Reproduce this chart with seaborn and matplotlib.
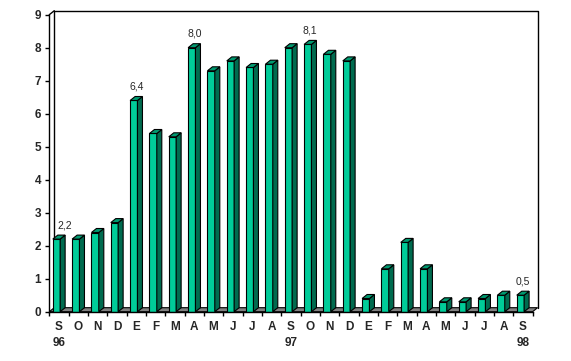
import matplotlib
matplotlib.use("Agg")
import matplotlib.pyplot as plt
import matplotlib.transforms as mtrans
from matplotlib.patches import Polygon
import pandas as pd
import seaborn as sns

months = ['S', 'O', 'N', 'D', 'E', 'F', 'M', 'A', 'M', 'J', 'J', 'A',
          'S', 'O', 'N', 'D', 'E', 'F', 'M', 'A', 'M', 'J', 'J', 'A', 'S']
years = {0: '96', 12: '97', 24: '98'}
valores = [2.2, 2.2, 2.4, 2.7, 6.4, 5.4, 5.3, 8.0, 7.3, 7.6, 7.4, 7.5,
           8.0, 8.1, 7.8, 7.6, 0.4, 1.3, 2.1, 1.3, 0.3, 0.3, 0.4, 0.5, 0.5]
rotulos = {0: '2,2', 4: '6,4', 7: '8,0', 13: '8,1', 24: '0,5'}

df = pd.DataFrame({'pos': range(len(valores)), 'valor': valores})

sns.set_theme(style="white")
plt.rcParams['font.family'] = ['Liberation Sans', 'DejaVu Sans']

cor_frente = '#00CC99'
cor_lado = '#006B4F'
cor_topo = '#009A70'

fig = plt.figure(figsize=(5.71, 3.61), dpi=100)
ax = fig.add_axes([49.3 / 571, 49.3 / 361, 483.3 / 571, 297 / 361])

sns.barplot(x='pos', y='valor', data=df, color=cor_frente, width=0.38,
            saturation=1, edgecolor='black', linewidth=0.8, ax=ax, zorder=3)
ax.set_xlim(-0.5, 24.5)
ax.set_ylim(0, 9)

# profundidade 3D em pixels
dx, dy = 5 / 100, 4 / 100
desloc = mtrans.ScaledTranslation(dx, dy, fig.dpi_scale_trans)
meio = mtrans.ScaledTranslation(-dx / 2, 0, fig.dpi_scale_trans)
inv = fig.transFigure.inverted()

# parede do fundo e chao
fundo = ax.transData + desloc
x0, x1 = -0.5, 24.5
p_frente = ax.transData.transform([(x0, 0), (x1, 0)])
p_fundo = fundo.transform([(x1, 0), (x0, 0)])
chao = Polygon(inv.transform(list(p_frente) + list(p_fundo)), closed=True,
               facecolor='#808080', edgecolor='black', linewidth=0.8,
               transform=fig.transFigure, clip_on=False, zorder=1)
ax.add_patch(chao)

ax.plot([x0, x0, x1, x1], [0, 9, 9, 0], color='black', lw=1,
        transform=fundo, clip_on=False, zorder=0.5)
a, b = inv.transform([ax.transData.transform((x0, 9)), fundo.transform((x0, 9))])
fig.add_artist(plt.Line2D([a[0], b[0]], [a[1], b[1]], color='black', lw=1))

# faces laterais e de cima das barras
for p in ax.patches[:len(valores)]:
    p.set_transform(ax.transData + meio)
    xl, w, h = p.get_x(), p.get_width(), p.get_height()
    t_f = ax.transData + meio
    t_b = ax.transData + meio + desloc
    fr = t_f.transform([(xl + w, 0), (xl + w, h)])
    bk = t_b.transform([(xl + w, h), (xl + w, 0)])
    lado = Polygon(inv.transform(list(fr) + list(bk)), closed=True,
                   facecolor=cor_lado, edgecolor='black', linewidth=0.8,
                   transform=fig.transFigure, clip_on=False, zorder=3)
    ax.add_patch(lado)
    fr2 = t_f.transform([(xl, h), (xl + w, h)])
    bk2 = t_b.transform([(xl + w, h), (xl, h)])
    topo = Polygon(inv.transform(list(fr2) + list(bk2)), closed=True,
                   facecolor=cor_topo, edgecolor='black', linewidth=0.8,
                   transform=fig.transFigure, clip_on=False, zorder=3)
    ax.add_patch(topo)

for i, txt in rotulos.items():
    ax.annotate(txt, (i, valores[i]), xytext=(4 if i == 0 else 0, 10),
                textcoords='offset points', ha='center', va='center',
                fontsize=7.5, zorder=5)

for s in ['top', 'right']:
    ax.spines[s].set_visible(False)
for s in ['left', 'bottom']:
    ax.spines[s].set_color('black')
    ax.spines[s].set_linewidth(1)
    ax.spines[s].set_zorder(4)

ax.set_yticks(range(10))
ax.set_yticklabels([str(v) for v in range(10)], fontweight='bold', fontsize=8.5)
ax.set_xticks([k - 0.5 for k in range(26)])
ax.set_xticklabels([])
ax.set_xticks(range(len(months)), minor=True)
ax.set_xticklabels([m + ('\n' + years[i] if i in years else '')
                    for i, m in enumerate(months)], minor=True,
                   fontweight='bold', fontsize=8.5, va='top', linespacing=1.4)
ax.tick_params(axis='both', which='major', direction='out', length=3,
               width=1, color='black', left=True, bottom=True, pad=3)
ax.tick_params(axis='x', which='minor', length=0, pad=7)
ax.set_xlabel('')
ax.set_ylabel('')
ax.grid(False)

fig.savefig('out.png', dpi=100)
